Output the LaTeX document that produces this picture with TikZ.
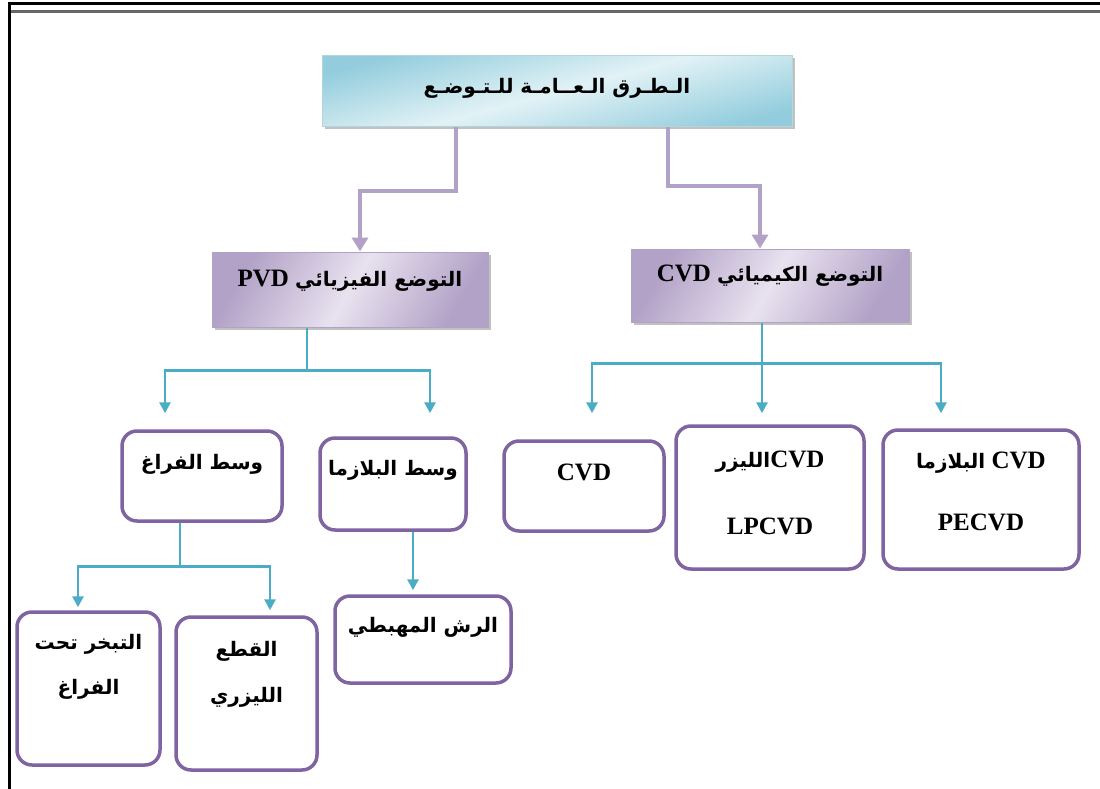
\documentclass[tikz,border=0pt]{standalone}
\usepackage{fontspec}
\setmainfont{Liberation Serif}
\newfontfamily\arabicfont[Script=Arabic]{DejaVu Sans}
\TeXXeTstate=1
\usetikzlibrary{arrows.meta,shadows}
\definecolor{pborder}{HTML}{8064A2}
\definecolor{pconn}{HTML}{B3A2C7}
\definecolor{cconn}{HTML}{4BACC6}
\definecolor{cyD}{HTML}{93CDDD}
\definecolor{cyL}{HTML}{E2F2F6}
\definecolor{puD}{HTML}{B3A2C7}
\definecolor{puL}{HTML}{E8E2EF}
\tikzset{
  topbox/.style={draw=cyD!90!black!60, line width=1pt, minimum width=470pt, minimum height=71pt,
    left color=cyD, right color=cyD, middle color=cyL, shading angle=15,
    drop shadow={shadow xshift=2.5pt,shadow yshift=-2.5pt,fill=black!35,opacity=.7}},
  catbox/.style={draw=puD, line width=1pt, left color=puD, right color=puD, middle color=puL, shading angle=60,
    drop shadow={shadow xshift=2.5pt,shadow yshift=-2.5pt,fill=black!35,opacity=.7}},
  rbox/.style={draw=pborder, line width=3.5pt, rounded corners=15pt, fill=white},
  txt/.style={font=\bfseries, inner sep=0pt, text=black},
  pline/.style={draw=pconn, line width=4pt},
  pcon/.style={pline, -{Triangle[width=16pt,length=14pt]}},
  cline/.style={draw=cconn, line width=2.8pt},
  ccon/.style={cline, -{Triangle[width=11pt,length=11pt]}},
}
\begin{document}
\begin{tikzpicture}[x=1pt,y=-1pt]
\useasboundingbox (0,0) rectangle (1100,789);
% frame
\draw[black, line width=2.5pt] (8,3.5) -- (1100,3.5);
\draw[black!60, line width=2.2pt] (10,11.5) -- (1100,11.5);
\draw[black, line width=3.5pt] (9.5,2.5) -- (9.5,789);

% boxes
\node[topbox] (top) at (557,91.5) {};
\node[catbox, minimum width=276pt, minimum height=75pt] (pvd) at (350,289.5) {};
\node[catbox, minimum width=278pt, minimum height=73pt] (cvd) at (770,285.5) {};

\node[rbox, minimum width=160pt, minimum height=90pt] (vac) at (202,476) {};
\node[rbox, minimum width=146pt, minimum height=92pt] (plas) at (393,484) {};
\node[rbox, minimum width=160pt, minimum height=90pt] (cvdb) at (584,486) {};
\node[rbox, minimum width=188pt, minimum height=143pt] (lp) at (770,497.5) {};
\node[rbox, minimum width=196pt, minimum height=139pt] (pe) at (981,499.5) {};
\node[rbox, minimum width=143pt, minimum height=153pt] (evap) at (88.5,688.5) {};
\node[rbox, minimum width=141pt, minimum height=153pt] (laser) at (246.5,693.5) {};
\node[rbox, minimum width=176pt, minimum height=87pt] (sput) at (423,639.5) {};

% texts
\node[txt, font=\bfseries\fontsize{20}{24}\selectfont] (ttop) at (557,88) {\arabicfont\beginR الـطـرق الـعــامـة للـتـوضـع\endR};
\node[txt, font=\bfseries\fontsize{25}{29}\selectfont] (tpvd) at (350,281) {\beginR{\arabicfont\fontsize{20}{24}\selectfont التوضع الفيزيائي} PVD\endR};
\node[txt, font=\bfseries\fontsize{25}{29}\selectfont] (tcvd) at (770,276) {\beginR{\arabicfont\fontsize{20}{24}\selectfont التوضع الكيميائي} CVD\endR};

\node[txt, font=\bfseries\fontsize{20}{24}\selectfont\arabicfont] (tvac) at (202,464) {\beginR وسط الفراغ\endR};
\node[txt, font=\bfseries\fontsize{20}{24}\selectfont\arabicfont] (tplas) at (393,470) {\beginR وسط البلازما\endR};
\node[txt, font=\bfseries\fontsize{25}{29}\selectfont] (tcvdb) at (584,472) {CVD};
\node[txt, font=\bfseries\fontsize{25}{29}\selectfont] (tlp1) at (770,462) {\beginR CVD\kern0pt{\arabicfont\fontsize{20}{24}\selectfont الليزر}\endR};
\node[txt, font=\bfseries\fontsize{25}{29}\selectfont] (tlp2) at (770,526) {LPCVD};
\node[txt, font=\bfseries\fontsize{25}{29}\selectfont] (tpe1) at (981,463) {\beginR CVD {\arabicfont\fontsize{20}{24}\selectfont البلازما}\endR};
\node[txt, font=\bfseries\fontsize{25}{29}\selectfont] (tpe2) at (981,522) {PECVD};
\node[txt, font=\bfseries\fontsize{20}{24}\selectfont\arabicfont] (tev1) at (88.5,644) {\beginR التبخر تحت\endR};
\node[txt, font=\bfseries\fontsize{20}{24}\selectfont\arabicfont] (tev2) at (88.5,689) {\beginR الفراغ\endR};
\node[txt, font=\bfseries\fontsize{20}{24}\selectfont\arabicfont] (tla1) at (246.5,651) {\beginR القطع\endR};
\node[txt, font=\bfseries\fontsize{20}{24}\selectfont\arabicfont] (tla2) at (246.5,697) {\beginR الليزري\endR};
\node[txt, font=\bfseries\fontsize{20}{24}\selectfont\arabicfont] (tsp) at (423,627) {\beginR الرش المهبطي\endR};

% connectors top -> categories
\draw[pcon] ([xshift=-101pt]top.south) -- ++(0,63) -| ([xshift=10pt]pvd.north);
\draw[pcon] ([xshift=111pt]top.south) -- ++(0,58) -| ([xshift=-10pt]cvd.north);

% PVD
\draw[cline] ([xshift=-43pt]pvd.south) -- ++(0,43) coordinate (pj);
\draw[ccon] (pj) -| ([xshift=-37pt,yshift=16pt]vac.north);
\draw[ccon] (pj) -| ([xshift=37pt,yshift=23pt]plas.north);

% CVD
\draw[cline] ([xshift=-8pt]cvd.south) -- ++(0,41) coordinate (cj);
\draw[ccon] (cj) -| ([xshift=8pt,yshift=26pt]cvdb.north);
\draw[ccon] (cj) -- ([xshift=-8pt,yshift=11pt]lp.north);
\draw[ccon] (cj) -| ([xshift=-40pt,yshift=15pt]pe.north);

% vacuum
\draw[cline] ([xshift=-22pt]vac.south) -- ++(0,44) coordinate (vj);
\draw[ccon] (vj) -| ([xshift=-10.5pt,yshift=3pt]evap.north);
\draw[ccon] (vj) -| ([xshift=23.5pt,yshift=5pt]laser.north);

% plasma
\draw[ccon] ([xshift=20pt]plas.south) -- ([xshift=-10pt,yshift=4pt]sput.north);
\end{tikzpicture}
\end{document}
